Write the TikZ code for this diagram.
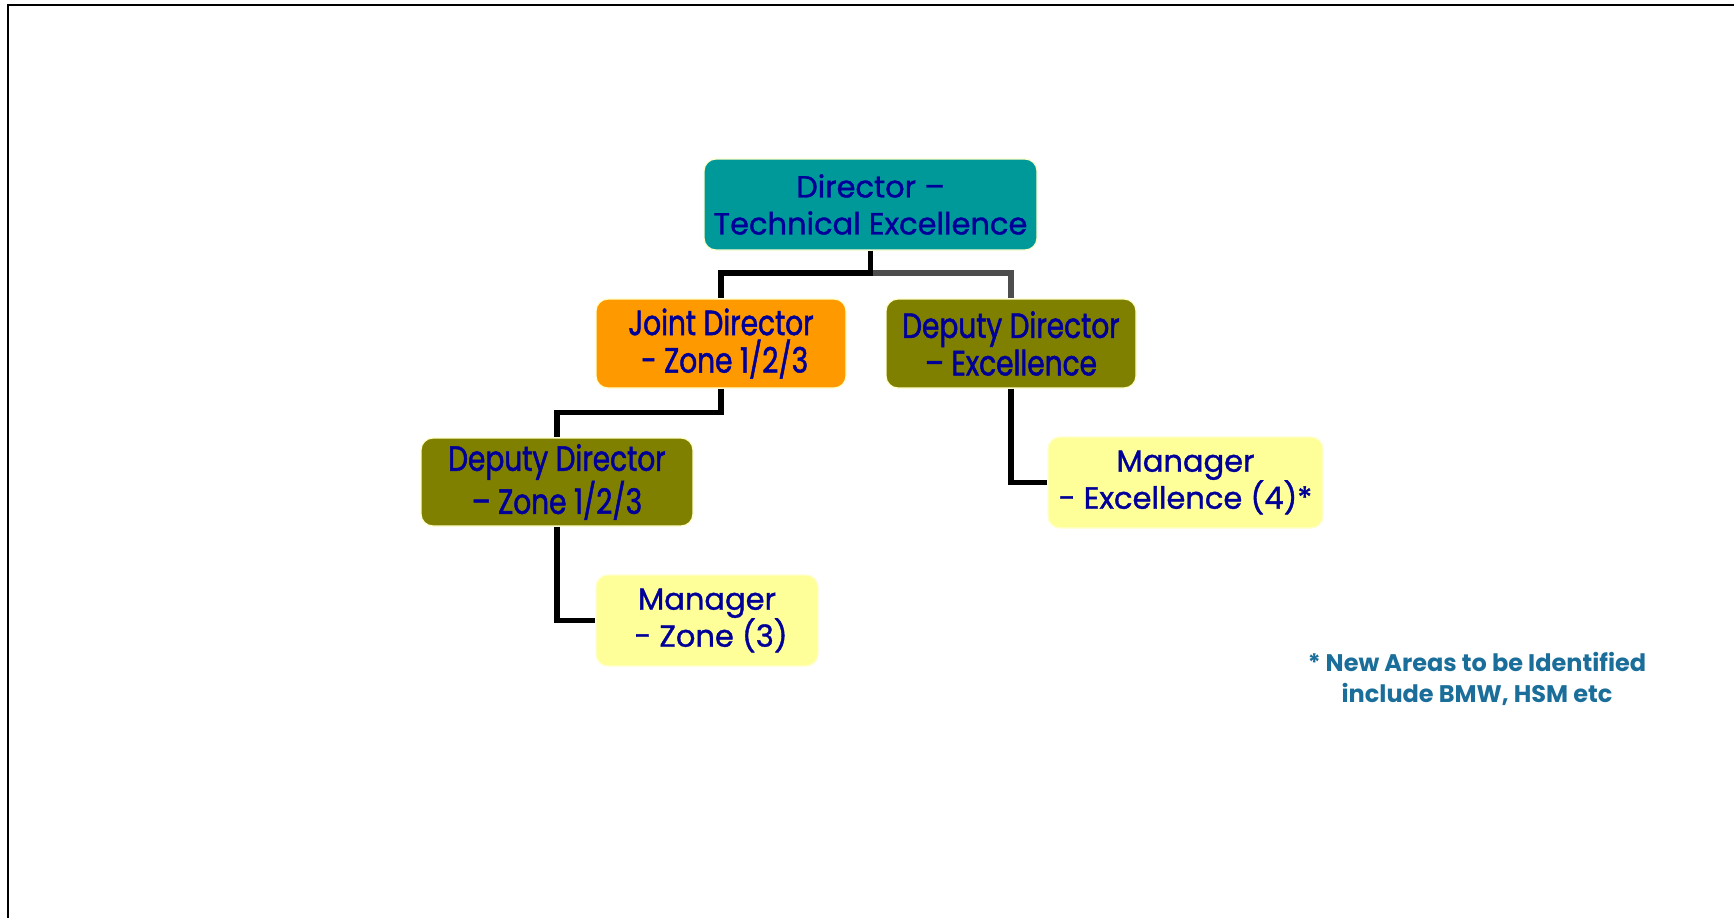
\documentclass[tikz,border=0pt]{standalone}
\usepackage{fontspec}
\setmainfont{Poppins}[Ligatures=TeX]
\newfontfamily\boxfont[FakeBold=1.2]{Poppins}
\newfontfamily\narrowfont[FakeStretch=0.8,FakeBold=1.4]{Poppins}
\begin{document}
\definecolor{teal}{HTML}{009999}
\definecolor{orangebox}{HTML}{FF9900}
\definecolor{olivebox}{HTML}{808000}
\definecolor{palebox}{HTML}{FFFF99}
\definecolor{rimcol}{HTML}{FFFFCC}
\definecolor{navytext}{HTML}{000099}
\definecolor{notecol}{HTML}{1A6E99}
\definecolor{rightbranch}{HTML}{4D4D4D}
\begin{tikzpicture}[x=1pt,y=-1pt,
  box/.style={draw=rimcol, line width=1.2pt, rounded corners=12pt, align=center,
    text=navytext, inner sep=0pt, font=\boxfont\fontsize{30.5}{37}\selectfont},
  narrow/.style={font=\narrowfont\fontsize{35}{37.5}\selectfont},
  conn/.style={line width=5.5pt, black},
]
\useasboundingbox (0,0) rectangle (1734,918);
% outer frame (top and left edges)
\draw[line width=2pt] (8,918) -- (8,5) -- (1734,5);

% boxes
\node[box, fill=teal, minimum width=333pt, minimum height=91pt] (dir) at (870.5,204.5)
  {Director –\\Technical Excellence};
\node[box, narrow, fill=orangebox, minimum width=250pt, minimum height=89pt] (jd) at (721,343.5)
  {Joint Director\\\ - Zone 1/2/3};
\node[box, narrow, fill=olivebox, minimum width=250pt, minimum height=89pt] (dde) at (1011,343.5)
  {Deputy Director\\– Excellence};
\node[box, narrow, fill=olivebox, minimum width=272pt, minimum height=88pt] (ddz) at (557,482)
  {Deputy Director\\– Zone 1/2/3};
\node[box, fill=palebox, minimum width=222pt, minimum height=91pt] (mz) at (707,620.5)
  {Manager\\\ - Zone (3)};
\node[box, fill=palebox, minimum width=275pt, minimum height=91pt] (me) at (1185.5,482.5)
  {Manager\\- Excellence (4)*};

% connectors
\coordinate (bus) at (dir.south |- 0,273);
\draw[conn, rightbranch] (bus) -| (dde.north);
\draw[conn] (dir.south) -- (bus) -| (jd.north);
\draw[conn] (jd.south) -- ++(0,24) -| (ddz.north);
\draw[conn] (ddz.south) |- (mz.west);
\draw[conn] (dde.south) |- (me.west);

% footnote
\node[align=center, text=notecol, font=\bfseries\fontsize{24}{31}\selectfont] (note) at (1477,678.5)
  {* New Areas to be Identified\\include BMW, HSM etc};
\end{tikzpicture}
\end{document}
